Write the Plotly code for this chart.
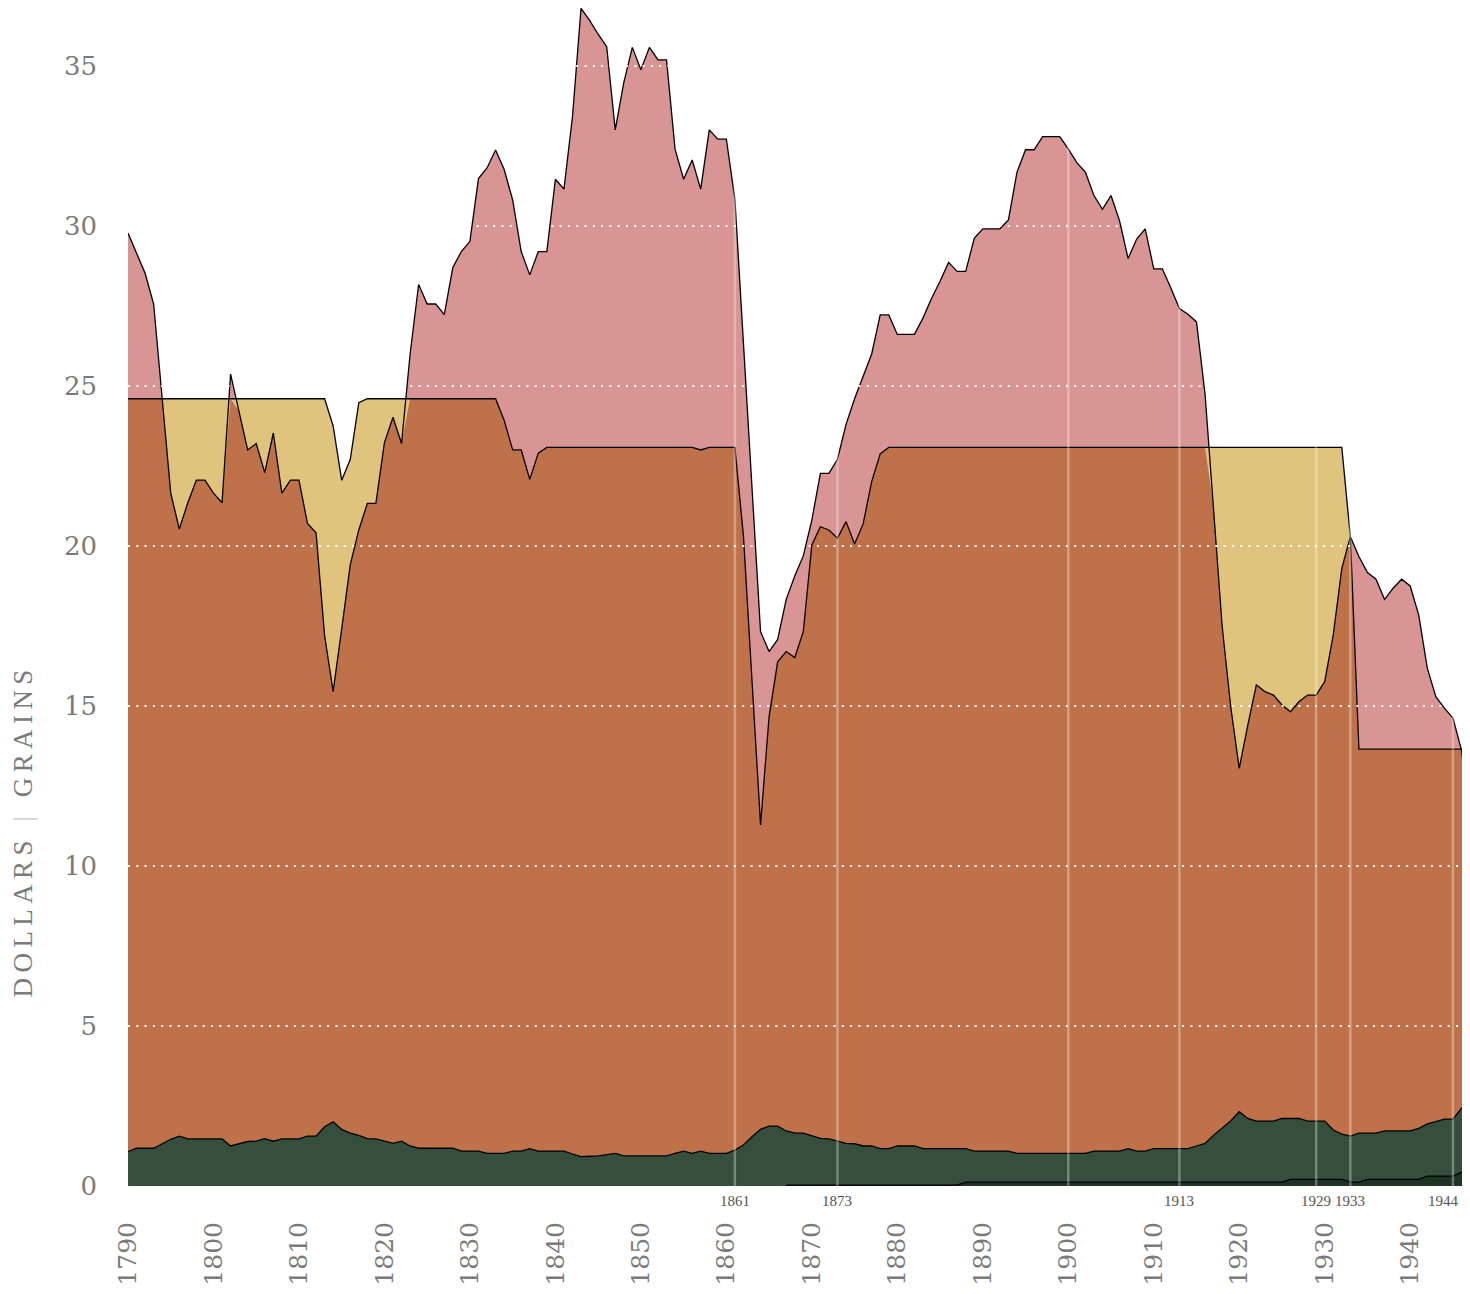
import plotly.graph_objects as go

years = list(range(1790, 1948))

# upper (pink) series
pink_vals = [
    29.78, 29.15, 28.52, 27.56, 24.6, 21.65, 20.53, 21.35, 22.06, 22.06,   # 1790s
    21.65, 21.35, 25.37, 24.2, 23.0, 23.2, 22.29, 23.53, 21.65, 22.06,     # 1800s
    22.06, 20.7, 20.41, 17.2, 15.45, 17.41, 19.41, 20.5, 21.33, 21.33,     # 1810s
    23.23, 24.02, 23.2, 25.99, 28.17, 27.56, 27.56, 27.23, 28.70, 29.2,    # 1820s
    29.52, 31.48, 31.81, 32.37, 31.77, 30.81, 29.2, 28.47, 29.2, 29.2,     # 1830s
    31.46, 31.15, 33.42, 36.8, 36.42, 35.99, 35.6, 33.0, 34.48, 35.58,     # 1840s
    34.88, 35.58, 35.19, 35.19, 32.4, 31.46, 32.06, 31.15, 33.0, 32.71,    # 1850s
    32.71, 30.83, 26.3, 21.8, 17.32, 16.7, 17.08, 18.33, 19.06, 19.69,     # 1860s
    20.81, 22.27, 22.27, 22.71, 23.8, 24.6, 25.3, 26.0, 27.22, 27.22,      # 1870s
    26.61, 26.61, 26.61, 27.12, 27.73, 28.27, 28.86, 28.58, 28.58, 29.61,  # 1880s
    29.91, 29.91, 29.91, 30.19, 31.68, 32.38, 32.38, 32.79, 32.79, 32.79,  # 1890s
    32.41, 31.98, 31.68, 30.95, 30.52, 30.95, 30.16, 28.98, 29.59, 29.91,  # 1900s
    28.66, 28.66, 28.06, 27.42, 27.24, 27.0, 24.75, 21.2, 17.5, 14.98,     # 1910s
    13.05, 14.4, 15.66, 15.45, 15.34, 15.03, 14.82, 15.14, 15.34, 15.34,   # 1920s
    15.76, 17.22, 19.3, 20.29, 19.67, 19.17, 18.96, 18.33, 18.68, 18.96,   # 1930s
    18.75, 17.84, 16.18, 15.29, 14.93, 14.62, 13.62, 11.7,                 # 1940-47
]

# gold (yellow) series
gold_vals = [
    24.6, 24.6, 24.6, 24.6, 24.6, 24.6, 24.6, 24.6, 24.6, 24.6,            # 1790s
    24.6, 24.6, 24.6, 24.6, 24.6, 24.6, 24.6, 24.6, 24.6, 24.6,            # 1800s
    24.6, 24.6, 24.6, 24.6, 23.75, 22.05, 22.7, 24.48, 24.6, 24.6,         # 1810s
    24.6, 24.6, 24.6, 24.6, 24.6, 24.6, 24.6, 24.6, 24.6, 24.6,            # 1820s
    24.6, 24.6, 24.6, 24.6, 23.93, 23.0, 23.0, 22.08, 22.9, 23.08,         # 1830s
    23.08, 23.08, 23.08, 23.08, 23.08, 23.08, 23.08, 23.08, 23.08, 23.08,  # 1840s
    23.08, 23.08, 23.08, 23.08, 23.08, 23.08, 23.08, 23.0, 23.08, 23.08,   # 1850s
    23.08, 23.08, 20.3, 15.8, 11.28, 14.67, 16.38, 16.70, 16.51, 17.32,    # 1860s
    20.03, 20.6, 20.5, 20.24, 20.76, 20.06, 20.69, 22.01, 22.88, 23.08,    # 1870s
    23.08, 23.08, 23.08, 23.08, 23.08, 23.08, 23.08, 23.08, 23.08, 23.08,  # 1880s
    23.08, 23.08, 23.08, 23.08, 23.08, 23.08, 23.08, 23.08, 23.08, 23.08,  # 1890s
    23.08, 23.08, 23.08, 23.08, 23.08, 23.08, 23.08, 23.08, 23.08, 23.08,  # 1900s
    23.08, 23.08, 23.08, 23.08, 23.08, 23.08, 23.08, 23.08, 23.08, 23.08,  # 1910s
    23.08, 23.08, 23.08, 23.08, 23.08, 23.08, 23.08, 23.08, 23.08, 23.08,  # 1920s
    23.08, 23.08, 23.08, 20.29, 13.65, 13.65, 13.65, 13.65, 13.65, 13.65,  # 1930s
    13.65, 13.65, 13.65, 13.65, 13.65, 13.65, 13.65, 13.65,                # 1940-47
]

# dark green series
green_vals = [
    1.07, 1.18, 1.18, 1.18, 1.32, 1.46, 1.56, 1.47, 1.47, 1.47,   # 1790s
    1.47, 1.47, 1.25, 1.32, 1.39, 1.40, 1.48, 1.40, 1.47, 1.47,   # 1800s
    1.47, 1.56, 1.56, 1.85, 2.01, 1.77, 1.65, 1.58, 1.48, 1.47,   # 1810s
    1.40, 1.33, 1.40, 1.25, 1.18, 1.18, 1.18, 1.18, 1.18, 1.09,   # 1820s
    1.09, 1.09, 1.02, 1.02, 1.02, 1.09, 1.09, 1.17, 1.09, 1.09,   # 1830s
    1.09, 1.09, 1.00, 0.92, 0.93, 0.94, 0.98, 1.02, 0.94, 0.94,   # 1840s
    0.94, 0.94, 0.94, 0.94, 1.02, 1.09, 1.02, 1.09, 1.02, 1.02,   # 1850s
    1.02, 1.12, 1.28, 1.54, 1.77, 1.87, 1.87, 1.72, 1.65, 1.65,   # 1860s
    1.56, 1.49, 1.47, 1.40, 1.33, 1.32, 1.25, 1.25, 1.17, 1.17,   # 1870s
    1.25, 1.25, 1.25, 1.17, 1.17, 1.17, 1.17, 1.17, 1.17, 1.09,   # 1880s
    1.09, 1.09, 1.09, 1.09, 1.02, 1.02, 1.02, 1.02, 1.02, 1.02,   # 1890s
    1.02, 1.02, 1.02, 1.09, 1.09, 1.09, 1.09, 1.17, 1.09, 1.09,   # 1900s
    1.17, 1.17, 1.17, 1.17, 1.17, 1.25, 1.33, 1.59, 1.81, 2.03,   # 1910s
    2.32, 2.11, 2.03, 2.03, 2.03, 2.11, 2.11, 2.11, 2.03, 2.03,   # 1920s
    2.03, 1.75, 1.62, 1.56, 1.65, 1.65, 1.65, 1.72, 1.72, 1.72,   # 1930s
    1.72, 1.80, 1.94, 2.01, 2.09, 2.09, 2.43, 2.63,               # 1940-47
]

# darkest green series (starts 1867)
deep_years = list(range(1867, 1948))
deep_vals = [
    0.03, 0.03, 0.03,                                              # 1867-69
    0.03, 0.03, 0.03, 0.03, 0.03, 0.03, 0.03, 0.03, 0.03, 0.03,   # 1870s
    0.03, 0.03, 0.03, 0.03, 0.03, 0.03, 0.03, 0.03, 0.12, 0.12,   # 1880s
    0.12, 0.12, 0.12, 0.12, 0.12, 0.12, 0.12, 0.12, 0.12, 0.12,   # 1890s
    0.12, 0.12, 0.12, 0.12, 0.12, 0.12, 0.12, 0.12, 0.12, 0.12,   # 1900s
    0.12, 0.12, 0.12, 0.12, 0.12, 0.12, 0.12, 0.12, 0.12, 0.12,   # 1910s
    0.12, 0.12, 0.12, 0.12, 0.12, 0.12, 0.21, 0.21, 0.21, 0.21,   # 1920s
    0.21, 0.21, 0.21, 0.12, 0.12, 0.21, 0.21, 0.21, 0.21, 0.21,   # 1930s
    0.21, 0.21, 0.31, 0.31, 0.31, 0.31, 0.43, 0.43,               # 1940-47
]

event_years = [1861, 1873, 1900, 1913, 1929, 1933, 1945]
event_labels = ["1861", "1873", "", "1913", "1929", "1933", "1944"]

y_ticks = [0, 5, 10, 15, 20, 25, 30, 35]
x_ticks = list(range(1790, 1941, 10))

PINK = "#d99494"
YELLOW = "#e0c47d"
BROWN = "#bf7249"
GREEN = "#364f3d"
DEEP = "#1e3322"
SERIF = "DejaVu Serif"
GRAY = "#7a7a7a"

overlap_vals = [min(p, g) for p, g in zip(pink_vals, gold_vals)]

fig = go.Figure()

def area(x, y, color):
    fig.add_trace(go.Scatter(x=x, y=y, mode="lines", fill="tozeroy",
                             fillcolor=color, line=dict(width=0, color=color),
                             hoverinfo="skip", showlegend=False))

def outline(x, y):
    fig.add_trace(go.Scatter(x=x, y=y, mode="lines",
                             line=dict(color="#000000", width=1.3),
                             hoverinfo="skip", showlegend=False))

area(years, pink_vals, PINK)
area(years, gold_vals, YELLOW)
area(years, overlap_vals, BROWN)
area(years, green_vals, GREEN)
area(deep_years, deep_vals, DEEP)

outline(years, pink_vals)
outline(years, gold_vals)
outline(years, green_vals)
outline(deep_years, deep_vals)

shapes = []
for v in y_ticks[1:]:
    shapes.append(dict(type="line", xref="paper", x0=0, x1=1, yref="y", y0=v, y1=v,
                       line=dict(color="white", width=2, dash="2px,6.3px"),
                       layer="above"))
for ex in event_years:
    shapes.append(dict(type="line", xref="x", x0=ex, x1=ex, yref="paper", y0=0, y1=1,
                       line=dict(color="rgba(255,255,255,0.32)", width=2.5),
                       layer="above"))

annotations = []
for i, (ex, lab) in enumerate(zip(event_years, event_labels)):
    if lab:
        last = i == len(event_years) - 1
        annotations.append(dict(x=ex, y=0, xref="x", yref="paper", text=lab,
                                showarrow=False, yanchor="top", yshift=-5,
                                xanchor="right" if last else "center",
                                xshift=8 if last else 0,
                                font=dict(family="Liberation Serif", size=15,
                                          color="#555555")))

sp = "\u2009"
title_text = (sp.join("DOLLARS") + "  " + sp + "<span style='color:#cccccc'>|</span>"
              + sp + "  " + sp.join("GRAINS"))
annotations.append(dict(x=-0.079, y=0.299, xref="paper", yref="paper",
                        text=title_text, textangle=-90, showarrow=False,
                        xanchor="center", yanchor="middle",
                        font=dict(family="Liberation Serif", size=27, color=GRAY)))

# the page body adds an 8px offset; the figure is sized to fit the window
fig.update_layout(
    width=1454, height=1286, autosize=False,
    margin=dict(l=120, r=0, t=0, b=108),
    plot_bgcolor="white", paper_bgcolor="white",
    shapes=shapes, annotations=annotations,
    xaxis=dict(range=[1790, 1946.06], tickvals=x_ticks, ticktext=[str(t) for t in x_ticks],
               tickangle=-90, showgrid=False, zeroline=False, showline=False,
               ticks="", ticklabelstandoff=30,
               tickfont=dict(family=SERIF, size=25, color=GRAY)),
    yaxis=dict(range=[0, 36.81], tickvals=y_ticks, ticktext=[str(t) for t in y_ticks],
               showgrid=False, zeroline=False, showline=False,
               ticks="", ticklabelstandoff=30,
               tickfont=dict(family=SERIF, size=26, color=GRAY)),
)

fig.write_html("out.html")
